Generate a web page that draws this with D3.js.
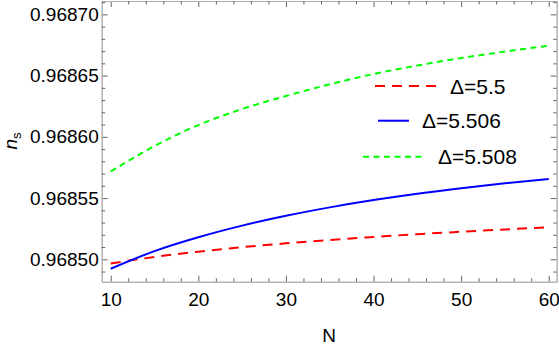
<!DOCTYPE html>
<html>
<head>
<meta charset="utf-8">
<script src="https://cdn.jsdelivr.net/npm/d3@7"></script>
<style>
  body { margin: 0; background: #fff; }
  text { font-family: "Liberation Sans", Arial, sans-serif; fill: #000; }
</style>
</head>
<body>
<div id="app"></div>
<script>
// values
const N = [10, 15, 20, 25, 30, 35, 40, 45, 50, 55, 60];
const ns55 = [0.9684966, 0.9685019, 0.9685062, 0.9685099, 0.9685130, 0.9685158,
              0.9685182, 0.9685205, 0.9685225, 0.9685244, 0.9685261];
const ns5506 = [0.9684923, 0.9685067, 0.9685180, 0.9685275, 0.9685355, 0.9685424,
                0.9685484, 0.9685536, 0.9685581, 0.9685621, 0.9685656];
const ns5508 = [0.9685717, 0.9685925, 0.9686096, 0.9686227, 0.9686333, 0.9686429,
                0.9686513, 0.9686582, 0.9686643, 0.9686696, 0.9686744];
const seriesNames = ["Δ=5.5", "Δ=5.506", "Δ=5.508"];
const xTicks = [10, 20, 30, 40, 50, 60];
const yTicks = [0.96850, 0.96855, 0.96860, 0.96865, 0.96870];

const width = 559, height = 346;
const margin = { left: 101.7, top: 1, right: 2.3, bottom: 64.3 };
const inner = { width: width - margin.left - margin.right, height: height - margin.top - margin.bottom };

const svg = d3.select('#app').append('svg')
    .attr('width', width)
    .attr('height', height);

const g = svg.append('g')
    .attr('transform', `translate(${margin.left},${margin.top})`);

const x = d3.scaleLinear().domain([8.97, 60.91]).range([0, inner.width]);
const y = d3.scaleLinear().domain([0.9684817, 0.9687109]).range([inner.height, 0]);

const xMinor = d3.range(10, 61, 2).filter(v => v % 10 !== 0);
const yMinor = d3.range(0, 24).map(i => +(0.96849 + i * 0.00001).toFixed(5))
    .filter(v => v > y.domain()[0] && v < y.domain()[1] && !yTicks.includes(v));

// frame axes: major + minor ticks, all pointing inward
function frameAxis(axis, tr, values, size, labels) {
  const a = g.append('g').attr('transform', tr)
    .call(axis.tickValues(values).tickSize(-size).tickSizeOuter(0)
      .tickFormat(labels || ''));
  a.select('.domain').attr('stroke', '#b0b0b0').attr('stroke-width', 1);
  a.selectAll('.tick line').attr('stroke', '#666');
  return a;
}

const bottom = frameAxis(d3.axisBottom(x).tickPadding(11), `translate(0,${inner.height})`, xTicks, 6, d3.format('d'));
frameAxis(d3.axisBottom(x), `translate(0,${inner.height})`, xMinor, 3.5);
frameAxis(d3.axisTop(x), 'translate(0,0)', xTicks, 6);
frameAxis(d3.axisTop(x), 'translate(0,0)', xMinor, 3.5);
const left = frameAxis(d3.axisLeft(y).tickPadding(3), 'translate(0,0)', yTicks, 6, d3.format('.5f'));
frameAxis(d3.axisLeft(y), 'translate(0,0)', yMinor, 3.5);
frameAxis(d3.axisRight(y), `translate(${inner.width},0)`, yTicks, 6);
frameAxis(d3.axisRight(y), `translate(${inner.width},0)`, yMinor, 3.5);

bottom.selectAll('text').attr('font-size', 19).attr('font-family', '"Liberation Sans", Arial, sans-serif');
left.selectAll('text').attr('font-size', 19).attr('font-family', '"Liberation Sans", Arial, sans-serif');

// series
const series = [
  { name: seriesNames[0], values: ns55, color: '#ff0000', dash: '10,7' },
  { name: seriesNames[1], values: ns5506, color: '#0000ff', dash: null },
  { name: seriesNames[2], values: ns5508, color: '#00ff00', dash: '6,4.5' }
];

const line = d3.line()
    .x((d, i) => x(N[i]))
    .y(d => y(d))
    .curve(d3.curveMonotoneX);

g.append('g').selectAll('path')
  .data(series)
  .join('path')
    .attr('d', d => line(d.values))
    .attr('fill', 'none')
    .attr('stroke', d => d.color)
    .attr('stroke-width', 2)
    .attr('stroke-dasharray', d => d.dash);

// legend (rows centred around x = 441)
const legendRows = [
  { x1: 375, x2: 438, tx: 450, ty: 86 },
  { x1: 378, x2: 409, tx: 422, ty: 120.7 },
  { x1: 363, x2: 423, tx: 438, ty: 156.7 }
];
const legend = svg.append('g').selectAll('g')
  .data(series)
  .join('g');
legend.append('line')
    .attr('x1', (d, i) => legendRows[i].x1)
    .attr('x2', (d, i) => legendRows[i].x2)
    .attr('y1', (d, i) => legendRows[i].ty)
    .attr('y2', (d, i) => legendRows[i].ty)
    .attr('stroke', d => d.color)
    .attr('stroke-width', 2)
    .attr('stroke-dasharray', d => d.dash);
legend.append('text')
    .attr('x', (d, i) => legendRows[i].tx)
    .attr('y', (d, i) => legendRows[i].ty)
    .attr('dy', '0.36em')
    .attr('font-size', 21)
    .text(d => d.name);

// axis titles
svg.append('text')
    .attr('x', margin.left + inner.width / 2)
    .attr('y', 342)
    .attr('text-anchor', 'middle')
    .attr('font-size', 19)
    .text('N');

const ylab = svg.append('text')
    .attr('transform', 'translate(17,141) rotate(-90)')
    .attr('text-anchor', 'middle')
    .attr('font-size', 19);
ylab.append('tspan').attr('font-style', 'italic').text('n');
ylab.append('tspan').attr('font-size', 13).attr('dy', 4).text('s');
</script>
</body>
</html>
